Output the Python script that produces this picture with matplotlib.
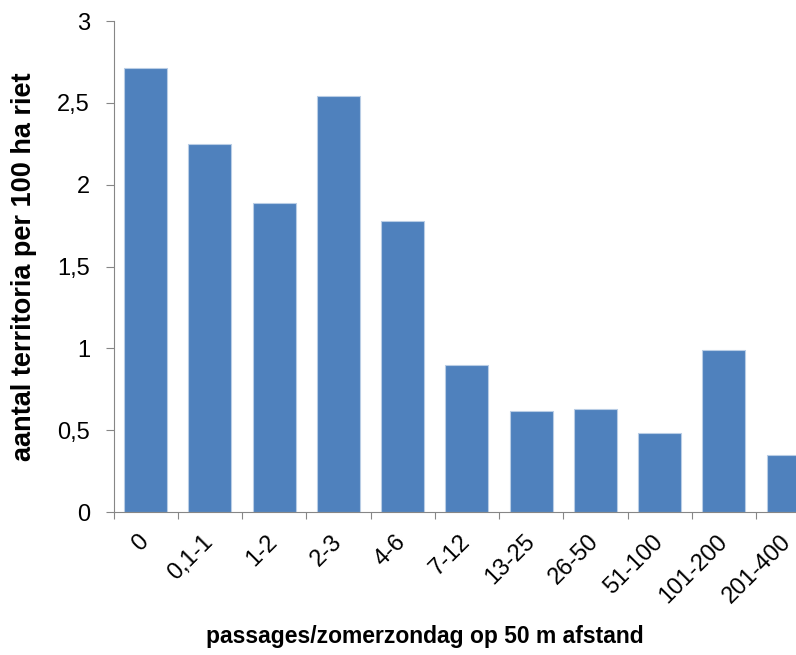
import matplotlib.pyplot as plt
from matplotlib.ticker import FuncFormatter, FixedLocator

plt.rcParams['font.family'] = ['Liberation Sans', 'DejaVu Sans']

categories = ['0', '0,1-1', '1-2', '2-3', '4-6', '7-12', '13-25', '26-50',
              '51-100', '101-200', '201-400']
values = [2.71, 2.25, 1.89, 2.54, 1.78, 0.90, 0.62, 0.63, 0.48, 0.99, 0.35]

fig = plt.figure(figsize=(7.96, 6.55), dpi=100)
# axis runs past the right edge, like the cropped original
ax = fig.add_axes([0.1426, 0.2183, 0.888, 0.7496])

x = range(len(categories))
ax.bar(x, values, width=0.67, color='#4F81BD', edgecolor='#B9CDE5', linewidth=0.8)

ax.set_xlim(-0.5, len(categories) - 0.5)
ax.set_ylim(0, 3)
ax.set_yticks([0, 0.5, 1, 1.5, 2, 2.5, 3])
ax.yaxis.set_major_formatter(FuncFormatter(lambda v, p: f'{v:g}'.replace('.', ',')))

# ticks sit between categories, labels at centres
ax.xaxis.set_major_locator(FixedLocator([i + 0.5 for i in range(-1, len(categories))]))
ax.xaxis.set_major_formatter(FuncFormatter(lambda v, p: ''))
ax.set_xticks(list(x), minor=True)
ax.set_xticklabels(categories, minor=True, rotation=45, ha='right', va='center',
                   rotation_mode='anchor', fontsize=17)
ax.tick_params(axis='x', which='minor', length=0, pad=19)
ax.tick_params(axis='x', which='major', length=5, color='#868686')
ax.tick_params(axis='y', length=6, color='#868686', labelsize=17, pad=11)

for side in ('top', 'right'):
    ax.spines[side].set_visible(False)
for side in ('left', 'bottom'):
    ax.spines[side].set_color('#868686')

ax.set_ylabel('aantal territoria per 100 ha riet', fontsize=19.5, fontweight='bold')
ax.yaxis.set_label_coords(-0.108, 0.5)
fig.text(0.534, 0.029, 'passages/zomerzondag op 50 m afstand', fontsize=16.5,
         fontweight='bold', ha='center', va='center')

fig.savefig('out.png', dpi=100)
